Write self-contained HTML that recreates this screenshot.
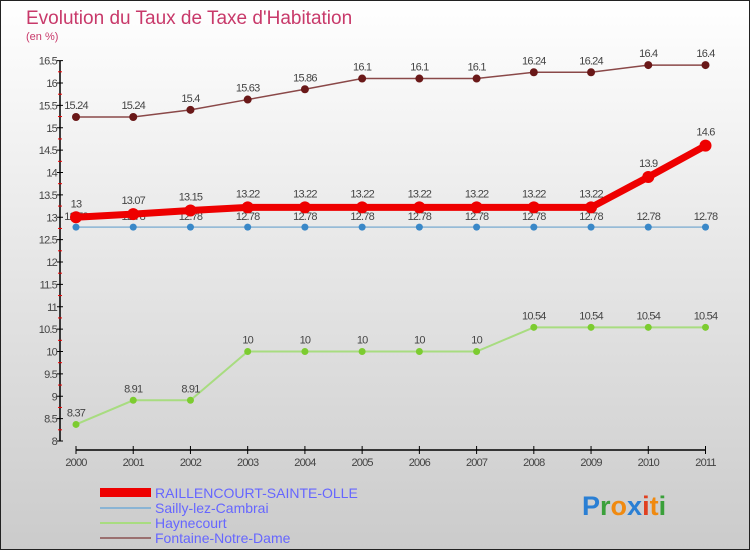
<!DOCTYPE html>
<html><head><meta charset="utf-8"><style>
body{margin:0}
#c{width:750px;height:550px;position:relative;font-family:"Liberation Sans",sans-serif}
</style></head><body>
<div id="c">
<svg id="s" width="750" height="550" xmlns="http://www.w3.org/2000/svg">
<defs><linearGradient id="bg" x1="0" y1="0" x2="0" y2="1"><stop offset="0" stop-color="#ffffff"/><stop offset="1" stop-color="#cbcbcb"/></linearGradient></defs>
<rect x="0.5" y="0.5" width="749" height="549" fill="url(#bg)" stroke="#222"/>
<text x="26" y="24" font-size="19" fill="#c8396a">Evolution du Taux de Taxe d'Habitation</text>
<text x="26" y="40" font-size="11" fill="#c8396a">(en %)</text>
<g id="axes"></g><g id="series"></g>
<g>
<rect x="100" y="488" width="51" height="9" fill="#ee0000"/>
<text x="155" y="498" font-size="14" fill="#6666ff">RAILLENCOURT-SAINTE-OLLE</text>
<line x1="100" y1="508" x2="151" y2="508" stroke="#8ab4d4" stroke-width="2"/>
<text x="155" y="513" font-size="14" fill="#6666ff">Sailly-lez-Cambrai</text>
<line x1="100" y1="523" x2="151" y2="523" stroke="#a8dc80" stroke-width="2"/>
<text x="155" y="528" font-size="14" fill="#6666ff">Haynecourt</text>
<line x1="100" y1="538" x2="151" y2="538" stroke="#9a7070" stroke-width="2"/>
<text x="155" y="543" font-size="14" fill="#6666ff">Fontaine-Notre-Dame</text>
</g>
<text x="582" y="515" font-size="27" font-weight="bold"><tspan fill="#2a7fd4">P</tspan><tspan fill="#3aa03a">r</tspan><tspan fill="#f08a10">o</tspan><tspan fill="#2a7fd4">x</tspan><tspan fill="#e04020">i</tspan><tspan fill="#f08a10">t</tspan><tspan fill="#3aa03a">i</tspan></text>
</svg>
</div>
<script>
const years=[2000,2001,2002,2003,2004,2005,2006,2007,2008,2009,2010,2011];
const raillencourt=[13,13.07,13.15,13.22,13.22,13.22,13.22,13.22,13.22,13.22,13.9,14.6];
const sailly=[12.78,12.78,12.78,12.78,12.78,12.78,12.78,12.78,12.78,12.78,12.78,12.78];
const haynecourt=[8.37,8.91,8.91,10,10,10,10,10,10.54,10.54,10.54,10.54];
const fontaine=[15.24,15.24,15.4,15.63,15.86,16.1,16.1,16.1,16.24,16.24,16.4,16.4];
const yTicks=[8,8.5,9,9.5,10,10.5,11,11.5,12,12.5,13,13.5,14,14.5,15,15.5,16,16.5];
const NS="http://www.w3.org/2000/svg";
const xS=i=>76+i*(705.5-76)/11;
const yS=v=>441-(v-8)*44.75;
function mk(p,t,a){const e=document.createElementNS(NS,t);for(const k in a)e.setAttribute(k,a[k]);p.appendChild(e);return e;}
const ax=document.getElementById('axes');
const yl=mk(ax,'line',{x1:60,y1:yS(16.5),x2:60,y2:yS(8),stroke:'#000','stroke-width':1.5});


yTicks.forEach((v,k)=>{
 const tk=mk(ax,'line',{x1:57,x2:63,y1:yS(v),y2:yS(v),stroke:'#000'});
 
 
 if(k<yTicks.length-1){
  const rt=mk(ax,'line',{x1:58,x2:62,y1:yS(v+0.25),y2:yS(v+0.25),stroke:'#e00'});
  
  
 }
 const t=mk(ax,'text',{x:57,y:yS(v)+4,'font-size':11,'text-anchor':'end',fill:'#444','letter-spacing':'-0.8'});
 t.textContent=String(v);
 
 
});
const xl=mk(ax,'line',{x1:76,y1:450,x2:705.5,y2:450,stroke:'#000','stroke-width':1.5});


years.forEach((y,i)=>{
 const tk=mk(ax,'line',{x1:xS(i),x2:xS(i),y1:446,y2:454,stroke:'#000'});
 
 
 const t=mk(ax,'text',{x:xS(i),y:466,'font-size':11,'text-anchor':'middle',fill:'#444','letter-spacing':'-0.8'});
 t.textContent=String(y);
 
 
});
const sg=document.getElementById('series');
function draw(vals,name,col,dot,w,r,dy){
 const g=mk(sg,'g',{});
 
 
 const pl=mk(g,'polyline',{points:vals.map((v,i)=>xS(i)+','+yS(v)).join(' '),fill:'none',stroke:col,'stroke-width':w});
 
 
 vals.forEach((v,i)=>{
  const c=mk(g,'circle',{cx:xS(i),cy:yS(v),r:r,fill:dot});
  
  
  const t=mk(g,'text',{x:xS(i),y:yS(v)+dy,'font-size':11,'text-anchor':'middle',fill:'#444','letter-spacing':'-0.8'});
  t.textContent=String(v);
  
  
 });
}
draw(haynecourt,'haynecourt','#a8dc80','#7ccc30',2,3.5,-8);
draw(sailly,'sailly','#8ab4d4','#3a88c8',1.5,3.5,-7);
draw(fontaine,'fontaine','#8a4848','#6a1818',1.5,4,-8);
draw(raillencourt,'raillencourt','#ee0000','#ee0000',7,6,-10);
</script>
</body></html>
